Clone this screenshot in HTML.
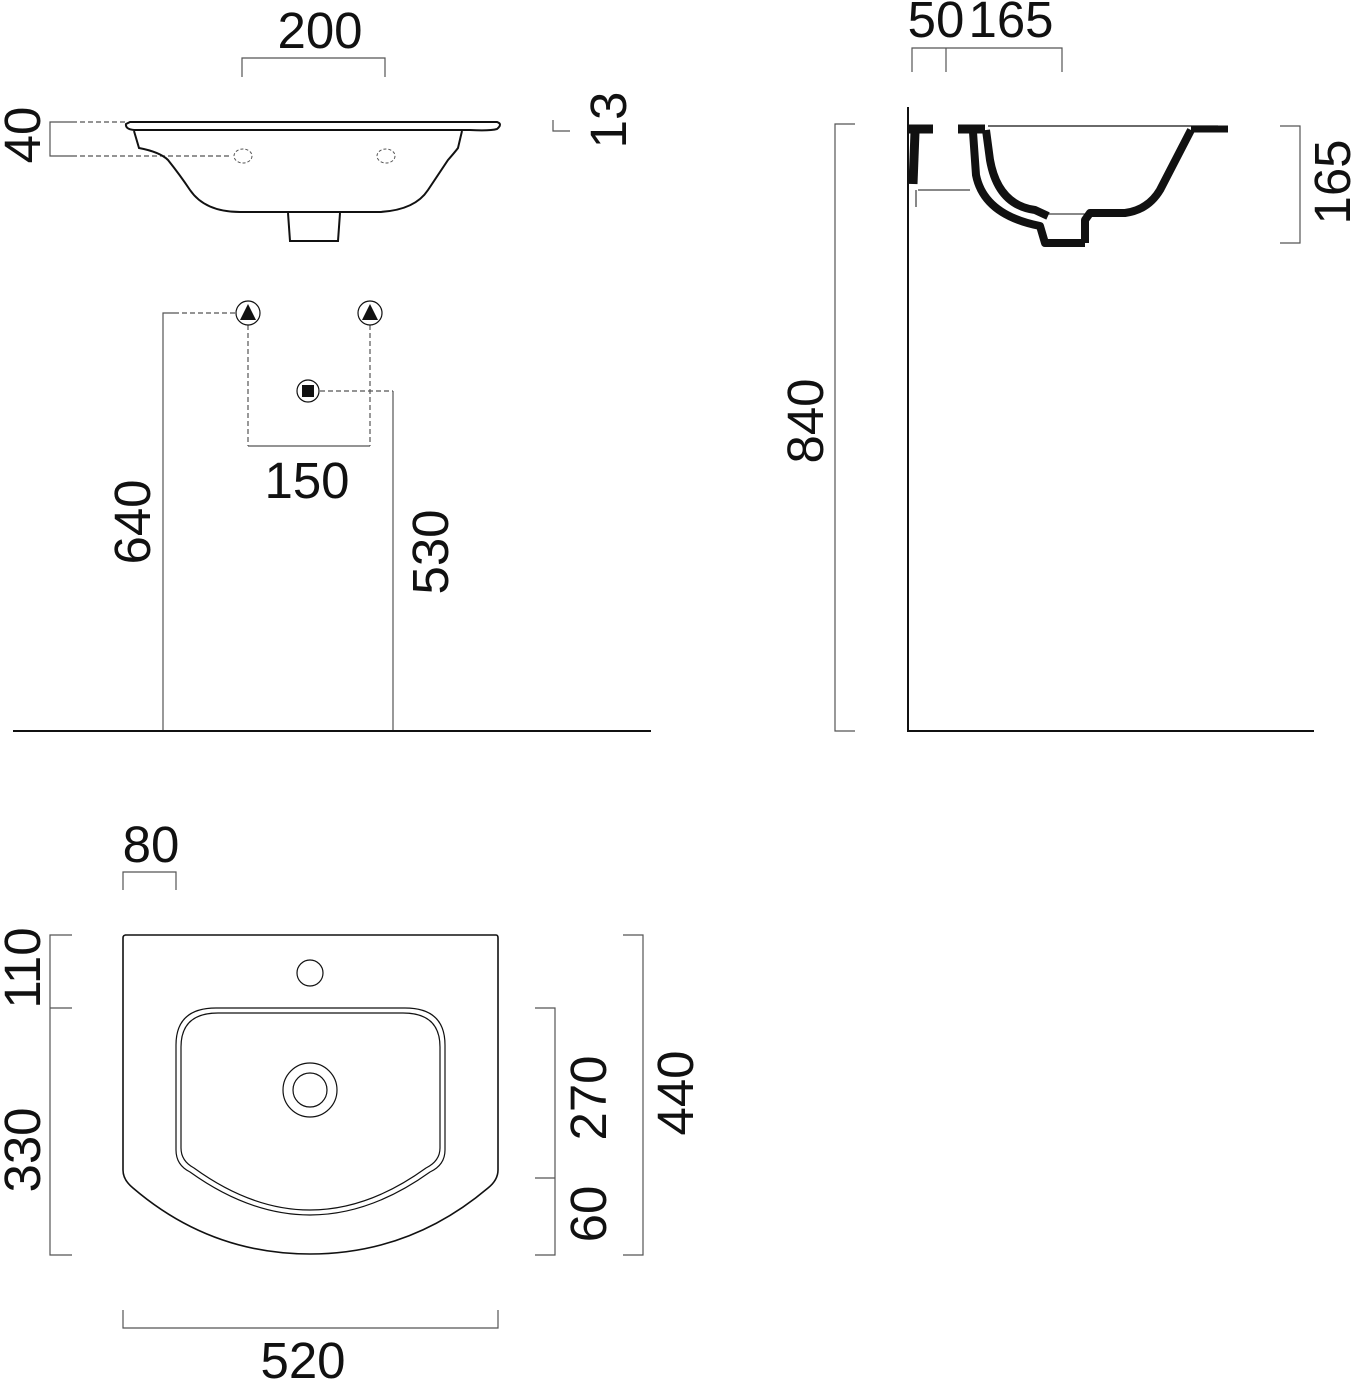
<!DOCTYPE html>
<html><head><meta charset="utf-8"><style>
html,body{margin:0;padding:0;background:#fff}
svg{display:block}
text{font-family:"Liberation Sans",sans-serif;font-size:51px;fill:#111}
</style></head><body>
<svg width="1351" height="1380" viewBox="0 0 1351 1380" xmlns="http://www.w3.org/2000/svg">
<g fill="none" stroke="#555" stroke-width="1.2">
<path d="M242 77V58H385V77"/>
<path d="M72 122H50V156H72"/>
<path d="M72 122H126M72 156H232" stroke-dasharray="5,3"/>
<path d="M553 120V131H570"/>
<path d="M163 731V313H174"/>
<path d="M174 313H236" stroke-dasharray="5,3"/>
<path d="M248 325V446M370 325V446" stroke-dasharray="5,3"/>
<path d="M248 446H370"/>
<path d="M320 391H393" stroke-dasharray="5,3"/>
<path d="M393 391V731"/>
<path d="M855 124H835V731H855"/>
<path d="M912 72V48H1062V72M946 48V72"/>
<path d="M1280 126H1300V243H1280"/>
<path d="M123 890V872H176V890"/>
<path d="M72 935H50V1255H72M50 1008H72"/>
<path d="M535 1008H555V1255H535M535 1178H555"/>
<path d="M623 935H643V1255H623"/>
<path d="M123 1310V1328H498V1310"/>
</g>
<g stroke="#111" stroke-width="2" fill="none">
<path d="M13 731H651"/>
<path d="M908 107V731H1314"/>
</g>
<g stroke="#111" stroke-width="2" fill="none">
<path d="M130 122H497Q503 124 497 129Q490 131 470 130H134Q125 129 126 124Z"/>
<path d="M134 131L139 148Q160 152 168 160Q180 175 190 190Q205 212 240 212H380Q415 210 428 190Q438 175 448 160Q455 152 458 148L462 131"/>
<path d="M288 213L290 241H338L340 213"/>
</g>
<g stroke="#555" stroke-width="1" fill="none" stroke-dasharray="3,2">
<ellipse cx="243" cy="156" rx="9" ry="7"/>
<ellipse cx="386" cy="156" rx="9" ry="7"/>
</g>
<g stroke="#111" stroke-width="1.2" fill="none">
<circle cx="248" cy="313" r="12"/><circle cx="370" cy="313" r="12"/><circle cx="308" cy="391" r="11"/>
</g>
<path d="M248 304L256 320H240Z M370 304L378 320H362Z" fill="#111"/>
<rect x="302" y="385" width="12" height="12" fill="#111"/>
<g stroke="#111" fill="none" stroke-linejoin="round">
<path d="M909 129H933M958 129H985" stroke-width="9"/>
<path d="M915 132L913 184" stroke-width="9"/>
<path d="M988 126H1218" stroke-width="1.2"/>
<path d="M1191 129H1228" stroke-width="7"/>
<path d="M1191 130L1160 190Q1148 210 1125 213H1090L1085 220V243" stroke-width="8"/>
<path d="M973 132L976 175Q984 215 1040 226L1045 243H1085" stroke-width="8"/>
<path d="M986 130L990 160Q998 205 1035 210L1048 216" stroke-width="8"/>
<path d="M1045 214H1090" stroke-width="1"/>
<path d="M918 190H970M916 190V207" stroke-width="1"/>
</g>
<g stroke="#111" stroke-width="1.6" fill="none">
<path d="M125 935H496Q498 935 498 938V1170Q498 1180 488 1188Q410 1254 310 1254Q210 1254 133 1188Q123 1180 123 1170V938Q123 935 126 935Z"/>
<path d="M216 1008H405Q445 1008 445 1045V1150Q445 1165 430 1172Q370 1215 310 1215Q250 1215 190 1172Q176 1165 176 1150V1045Q176 1008 216 1008Z" stroke-width="1.2"/>
<path d="M218 1013H403Q440 1013 440 1047V1148Q440 1161 426 1168Q368 1210 310 1210Q252 1210 194 1168Q181 1161 181 1148V1047Q181 1013 218 1013Z" stroke-width="1.2"/>
<circle cx="310" cy="973" r="13" stroke-width="1.2"/>
<circle cx="310" cy="1090" r="27" stroke-width="1.2"/>
<circle cx="310" cy="1090" r="17" stroke-width="1.2"/>
</g>
<text x="320" y="48" text-anchor="middle">200</text>
<text x="936" y="37" text-anchor="middle">50</text>
<text x="1011" y="37" text-anchor="middle">165</text>
<text x="307" y="498" text-anchor="middle">150</text>
<text x="151" y="862" text-anchor="middle">80</text>
<text x="303" y="1378" text-anchor="middle">520</text>
<g text-anchor="middle">
<text transform="translate(40,135) rotate(-90)">40</text>
<text transform="translate(626,120) rotate(-90)">13</text>
<text transform="translate(150,522) rotate(-90)">640</text>
<text transform="translate(448,552) rotate(-90)">530</text>
<text transform="translate(823,421) rotate(-90)">840</text>
<text transform="translate(1350,182) rotate(-90)">165</text>
<text transform="translate(40,968) rotate(-90)">110</text>
<text transform="translate(40,1150) rotate(-90)">330</text>
<text transform="translate(606,1098) rotate(-90)">270</text>
<text transform="translate(606,1214) rotate(-90)">60</text>
<text transform="translate(693,1093) rotate(-90)">440</text>
</g>
</svg>
</body></html>
